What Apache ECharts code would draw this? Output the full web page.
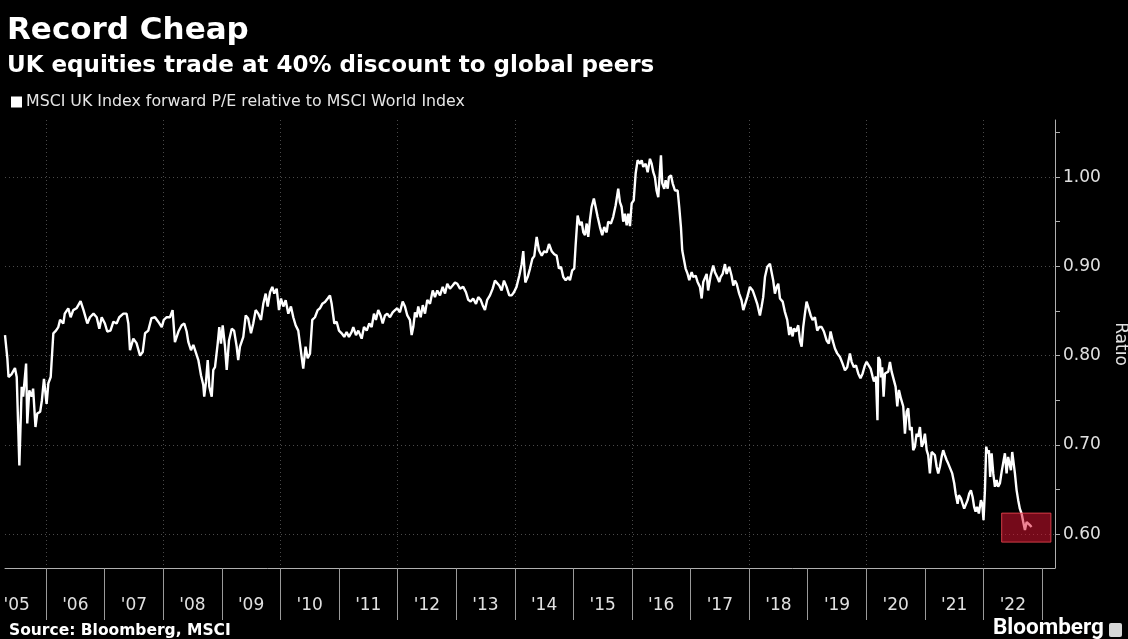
<!DOCTYPE html>
<html>
<head>
<meta charset="utf-8">
<title>Record Cheap</title>
<script src="https://cdn.jsdelivr.net/npm/echarts@6/dist/echarts.min.js"></script>
<style>
  html, body { margin: 0; padding: 0; background: #000; }
  #chart { width: 1128px; height: 639px; }
</style>
</head>
<body>
<div id="chart"></div>
<script>
// MSCI UK forward P/E relative to MSCI World, [decimal year, ratio]
const ratioHistory = [
  [2005.30,0.823],[2005.32,0.825],[2005.34,0.797],[2005.36,0.776],[2005.41,0.779],[2005.47,0.786],[2005.50,0.776],[2005.545,0.677],[2005.585,0.765],[2005.61,0.754],
  [2005.66,0.791],[2005.68,0.724],[2005.715,0.761],[2005.755,0.754],[2005.78,0.763],[2005.82,0.720],[2005.85,0.735],[2005.90,0.737],[2005.93,0.750],[2005.965,0.774],
  [2006.01,0.746],[2006.04,0.769],[2006.08,0.776],[2006.125,0.825],[2006.17,0.828],[2006.21,0.832],[2006.24,0.840],[2006.295,0.836],[2006.32,0.847],[2006.38,0.853],
  [2006.42,0.843],[2006.465,0.851],[2006.52,0.853],[2006.59,0.861],[2006.64,0.851],[2006.705,0.836],[2006.75,0.843],[2006.81,0.847],[2006.865,0.843],[2006.91,0.830],
  [2006.95,0.843],[2007.005,0.836],[2007.045,0.827],[2007.10,0.828],[2007.15,0.838],[2007.205,0.836],[2007.25,0.843],[2007.32,0.847],[2007.375,0.847],[2007.405,0.836],
  [2007.433,0.806],[2007.49,0.819],[2007.545,0.814],[2007.605,0.800],[2007.65,0.804],[2007.69,0.825],[2007.745,0.828],[2007.80,0.842],[2007.86,0.843],[2007.915,0.838],
  [2007.975,0.832],[2008.01,0.840],[2008.06,0.843],[2008.115,0.843],[2008.16,0.851],[2008.20,0.815],[2008.26,0.827],[2008.316,0.834],[2008.36,0.836],[2008.40,0.827],
  [2008.43,0.815],[2008.474,0.806],[2008.514,0.812],[2008.555,0.804],[2008.60,0.795],[2008.645,0.778],[2008.684,0.767],[2008.70,0.754],[2008.73,0.7705],[2008.76,0.795],
  [2008.787,0.765],[2008.828,0.754],[2008.855,0.784],[2008.884,0.787],[2008.93,0.8135],[2008.957,0.832],[2008.986,0.8135],[2009.015,0.834],[2009.055,0.810],[2009.084,0.784],
  [2009.123,0.817],[2009.17,0.830],[2009.21,0.828],[2009.254,0.810],[2009.28,0.795],[2009.31,0.810],[2009.367,0.821],[2009.408,0.845],[2009.45,0.8415],[2009.498,0.825],
  [2009.537,0.836],[2009.578,0.851],[2009.623,0.847],[2009.669,0.840],[2009.708,0.858],[2009.749,0.8695],[2009.783,0.855],[2009.823,0.871],[2009.862,0.877],[2009.896,0.8695],
  [2009.937,0.875],[2009.976,0.851],[2010.01,0.864],[2010.05,0.855],[2010.09,0.862],[2010.135,0.847],[2010.18,0.855],[2010.22,0.843],[2010.26,0.834],[2010.305,0.828],
  [2010.334,0.8135],[2010.363,0.7985],[2010.39,0.7855],[2010.43,0.810],[2010.466,0.797],[2010.505,0.802],[2010.544,0.840],[2010.59,0.843],[2010.636,0.851],[2010.676,0.853],
  [2010.715,0.858],[2010.761,0.860],[2010.807,0.864],[2010.846,0.8675],[2010.875,0.858],[2010.92,0.836],[2010.96,0.838],[2011.0,0.828],[2011.046,0.825],[2011.09,0.821],
  [2011.13,0.8265],[2011.17,0.821],[2011.217,0.8265],[2011.244,0.832],[2011.29,0.823],[2011.33,0.828],[2011.387,0.819],[2011.427,0.832],[2011.473,0.828],[2011.517,0.836],
  [2011.558,0.832],[2011.597,0.847],[2011.63,0.840],[2011.67,0.851],[2011.71,0.845],[2011.746,0.836],[2011.785,0.845],[2011.824,0.847],[2011.87,0.843],[2011.916,0.8485],
  [2011.956,0.851],[2011.995,0.853],[2012.04,0.8485],[2012.087,0.8605],[2012.126,0.855],[2012.166,0.845],[2012.21,0.840],[2012.24,0.823],[2012.268,0.832],[2012.297,0.8485],
  [2012.326,0.843],[2012.353,0.855],[2012.394,0.843],[2012.43,0.8565],[2012.468,0.847],[2012.507,0.8625],[2012.553,0.858],[2012.60,0.873],[2012.638,0.8655],[2012.678,0.873],
  [2012.724,0.8675],[2012.77,0.877],[2012.81,0.8695],[2012.848,0.8805],[2012.894,0.875],[2012.94,0.8785],[2012.98,0.882],[2013.019,0.8805],[2013.065,0.875],[2013.12,0.877],
  [2013.167,0.871],[2013.206,0.8625],[2013.247,0.8605],[2013.29,0.864],[2013.338,0.858],[2013.377,0.8655],[2013.418,0.8625],[2013.452,0.8565],[2013.491,0.851],[2013.53,0.8625],
  [2013.577,0.8675],[2013.623,0.875],[2013.662,0.884],[2013.69,0.886],[2013.735,0.8785],[2013.776,0.873],[2013.816,0.884],[2013.86,0.877],[2013.906,0.8675],[2013.947,0.8675],
  [2013.986,0.871],[2014.03,0.877],[2014.077,0.8895],[2014.118,0.9025],[2014.145,0.917],[2014.18,0.882],[2014.22,0.888],[2014.26,0.8975],[2014.30,0.9085],[2014.333,0.9115],
  [2014.374,0.933],[2014.413,0.918],[2014.46,0.912],[2014.503,0.917],[2014.544,0.9155],[2014.584,0.925],[2014.63,0.917],[2014.674,0.9135],[2014.715,0.912],[2014.754,0.8975],
  [2014.789,0.8995],[2014.828,0.888],[2014.869,0.8845],[2014.913,0.888],[2014.942,0.8845],[2014.98,0.8955],[2015.015,0.8975],[2015.04,0.925],[2015.073,0.957],[2015.113,0.946],
  [2015.142,0.950],[2015.17,0.938],[2015.198,0.935],[2015.227,0.948],[2015.254,0.933],[2015.283,0.952],[2015.312,0.9665],[2015.35,0.976],[2015.38,0.9665],[2015.414,0.9555],
  [2015.454,0.944],[2015.493,0.935],[2015.527,0.944],[2015.568,0.938],[2015.595,0.950],[2015.641,0.948],[2015.68,0.9555],[2015.722,0.9685],[2015.766,0.987],[2015.795,0.972],
  [2015.824,0.9665],[2015.851,0.950],[2015.88,0.959],[2015.91,0.946],[2015.937,0.959],[2015.966,0.945],[2015.995,0.9705],[2016.03,0.974],[2016.063,1.004],[2016.097,1.019],
  [2016.137,1.015],[2016.166,1.019],[2016.193,1.0115],[2016.234,1.015],[2016.268,1.0055],[2016.307,1.0205],[2016.336,1.015],[2016.364,1.0055],[2016.392,1.000],[2016.42,0.985],
  [2016.449,0.9775],[2016.473,1.002],[2016.495,1.0245],[2016.517,0.993],[2016.551,0.987],[2016.575,0.9965],[2016.61,0.987],[2016.63,1.000],[2016.666,1.002],[2016.695,0.993],
  [2016.734,0.985],[2016.78,0.985],[2016.807,0.9665],[2016.836,0.944],[2016.858,0.918],[2016.892,0.906],[2016.916,0.8975],[2016.95,0.8915],[2016.978,0.8845],[2017.019,0.8935],
  [2017.046,0.888],[2017.087,0.8895],[2017.12,0.8825],[2017.16,0.877],[2017.19,0.864],[2017.217,0.8825],[2017.246,0.8805],[2017.275,0.8915],[2017.30,0.873],[2017.343,0.8895],
  [2017.387,0.901],[2017.416,0.8935],[2017.455,0.888],[2017.49,0.8825],[2017.513,0.888],[2017.548,0.8915],[2017.587,0.9025],[2017.616,0.8915],[2017.66,0.8995],[2017.70,0.8895],
  [2017.73,0.8785],[2017.758,0.884],[2017.787,0.8805],[2017.83,0.8695],[2017.87,0.862],[2017.90,0.851],[2017.928,0.853],[2017.968,0.8655],[2018.013,0.877],[2018.06,0.873],
  [2018.10,0.8655],[2018.138,0.858],[2018.184,0.845],[2018.213,0.855],[2018.24,0.8655],[2018.27,0.888],[2018.31,0.8995],[2018.355,0.903],[2018.384,0.901],[2018.41,0.8845],
  [2018.44,0.8695],[2018.47,0.877],[2018.497,0.8805],[2018.526,0.864],[2018.572,0.8605],[2018.61,0.849],[2018.65,0.840],[2018.684,0.823],[2018.708,0.832],[2018.742,0.8215],
  [2018.764,0.8305],[2018.80,0.827],[2018.838,0.834],[2018.867,0.817],[2018.896,0.810],[2018.923,0.832],[2018.952,0.847],[2018.98,0.8605],[2019.015,0.853],[2019.05,0.845],
  [2019.083,0.840],[2019.123,0.843],[2019.162,0.828],[2019.196,0.832],[2019.237,0.832],[2019.276,0.827],[2019.322,0.817],[2019.36,0.8135],[2019.39,0.827],[2019.425,0.817],
  [2019.464,0.808],[2019.503,0.8025],[2019.55,0.7985],[2019.595,0.791],[2019.635,0.7835],[2019.674,0.787],[2019.72,0.8025],[2019.749,0.793],[2019.788,0.787],[2019.823,0.789],
  [2019.862,0.780],[2019.90,0.7745],[2019.937,0.780],[2019.976,0.789],[2020.005,0.793],[2020.039,0.791],[2020.073,0.7855],[2020.107,0.7765],[2020.13,0.771],[2020.164,0.7765],
  [2020.19,0.7275],[2020.205,0.7985],[2020.232,0.795],[2020.25,0.7755],[2020.27,0.787],[2020.295,0.754],[2020.318,0.780],[2020.346,0.778],[2020.374,0.782],[2020.403,0.793],
  [2020.432,0.782],[2020.46,0.784],[2020.50,0.765],[2020.528,0.743],[2020.556,0.7615],[2020.59,0.752],[2020.63,0.743],[2020.659,0.7125],[2020.688,0.737],[2020.715,0.741],
  [2020.744,0.7165],[2020.773,0.720],[2020.80,0.694],[2020.829,0.698],[2020.858,0.7125],[2020.885,0.709],[2020.915,0.720],[2020.944,0.698],[2020.97,0.7015],[2021.0,0.7125],
  [2021.03,0.694],[2021.056,0.6885],[2021.085,0.668],[2021.114,0.692],[2021.14,0.694],[2021.17,0.6885],[2021.20,0.6755],[2021.227,0.668],[2021.256,0.6755],[2021.285,0.6865],
  [2021.312,0.694],[2021.34,0.6885],[2021.37,0.683],[2021.398,0.679],[2021.427,0.677],[2021.466,0.668],[2021.50,0.657],[2021.524,0.6455],[2021.558,0.634],[2021.58,0.6435],
  [2021.614,0.640],[2021.643,0.634],[2021.67,0.6285],[2021.70,0.627],[2021.728,0.638],[2021.756,0.6455],[2021.785,0.649],[2021.814,0.6415],[2021.84,0.6305],[2021.865,0.625],
  [2021.89,0.6305],[2021.92,0.623],[2021.956,0.638],[2021.978,0.634],[2022.0,0.6155],[2022.024,0.649],[2022.046,0.698],[2022.07,0.6905],[2022.092,0.694],[2022.114,0.664],
  [2022.138,0.6905],[2022.166,0.668],[2022.195,0.653],[2022.224,0.6605],[2022.25,0.653],[2022.28,0.657],[2022.31,0.670],[2022.336,0.668],[2022.365,0.6905],[2022.394,0.668],
  [2022.42,0.6865],[2022.445,0.6885],[2022.468,0.6715],[2022.49,0.692],[2022.513,0.694],[2022.536,0.668],[2022.565,0.649],[2022.592,0.638],[2022.62,0.6285],[2022.65,0.623],
  [2022.678,0.6135],[2022.707,0.6045],[2022.736,0.6135],[2022.763,0.6155],[2022.792,0.610],[2022.82,0.608]
];

// Axis ticks and labels
const yearTicks = [2006, 2007, 2008, 2009, 2010, 2011, 2012, 2013, 2014, 2015, 2016, 2017, 2018, 2019, 2020, 2021, 2022, 2023];
const yearLabelAt = [2005.5, 2006.5, 2007.5, 2008.5, 2009.5, 2010.5, 2011.5, 2012.5, 2013.5, 2014.5, 2015.5, 2016.5, 2017.5, 2018.5, 2019.5, 2020.5, 2021.5, 2022.5];
const yearGridLines = [2006, 2008, 2010, 2012, 2014, 2016, 2018, 2020, 2022];
const ratioTicks = [0.60, 0.65, 0.70, 0.75, 0.80, 0.85, 0.90, 0.95, 1.00, 1.05];
const ratioLabels = [0.60, 0.70, 0.80, 0.90, 1.00];

// Highlighted record-low zone
const highlightYears = [2022.31, 2023.15];
const highlightRatio = [0.591, 0.6235];

const seriesName = 'MSCI UK Index forward P/E relative to MSCI World Index';
const xRange = [2005.30, 2023.22];
const yRange = [0.562, 1.064];

const chart = echarts.init(document.getElementById('chart'), null, { renderer: 'canvas' });

const baseFont = 'DejaVu Sans';

chart.setOption({
  backgroundColor: '#000',
  animation: false,
  title: [
    { text: 'Record Cheap', left: 7, top: 15, padding: 0,
      textStyle: { color: '#fff', fontFamily: baseFont, fontWeight: 'bold', fontSize: 31 } },
    { text: 'UK equities trade at 40% discount to global peers', left: 7, top: 55, padding: 0,
      textStyle: { color: '#fff', fontFamily: baseFont, fontWeight: 'bold', fontSize: 23 } },
    { text: 'Source: Bloomberg, MSCI', left: 9, top: 623, padding: 0,
      textStyle: { color: '#fff', fontFamily: baseFont, fontWeight: 'bold', fontSize: 15.5 } },
    { text: 'Bloomberg', left: 993, top: 617, padding: 0,
      textStyle: { color: '#fff', fontFamily: 'Roboto', fontWeight: 'bold', fontSize: 22.5 } }
  ],
  legend: {
    data: [seriesName],
    left: 11, top: 94, padding: 0,
    icon: 'rect', itemWidth: 11, itemHeight: 11, itemGap: 10,
    textStyle: { color: '#e6e6e6', fontFamily: baseFont, fontSize: 15.8, padding: [0, 0, 0, -1] }
  },
  graphic: [
    { type: 'rect', left: 1109, top: 623, shape: { width: 13, height: 14, r: 2 },
      style: { fill: '#d8d8d8' } }
  ],
  grid: { left: 5, right: 73, top: 120, bottom: 71, containLabel: false, outerBoundsMode: 'none' },
  xAxis: [
    {
      type: 'value', min: xRange[0], max: xRange[1],
      axisLine: { show: true, onZero: false, lineStyle: { color: '#b0b0b0', width: 1 } },
      axisTick: { show: true, customValues: yearTicks, length: 52, lineStyle: { color: '#9a9a9a', width: 1 } },
      axisLabel: {
        show: true, customValues: yearLabelAt, margin: 29,
        color: '#e0e0e0', fontFamily: baseFont, fontSize: 17,
        formatter: v => "'" + String(Math.round(v - 0.5)).slice(2)
      },
      splitLine: { show: false }
    },
    {
      type: 'value', min: xRange[0], max: xRange[1],
      axisLine: { show: false },
      axisTick: { show: false, customValues: yearGridLines },
      axisLabel: { show: false },
      splitLine: { show: true, lineStyle: { color: '#4a4a4a', type: [1, 3], width: 1 } }
    }
  ],
  yAxis: [
    {
      type: 'value', position: 'right', min: yRange[0], max: yRange[1],
      name: 'Ratio', nameLocation: 'middle', nameRotate: -90, nameGap: 55,
      nameTextStyle: { color: '#e0e0e0', fontFamily: baseFont, fontSize: 17 },
      axisLine: { show: true, onZero: false, lineStyle: { color: '#b0b0b0', width: 1 } },
      axisTick: { show: true, customValues: ratioTicks, length: 5, lineStyle: { color: '#b0b0b0' } },
      axisLabel: {
        show: true, customValues: ratioLabels, margin: 8,
        color: '#e0e0e0', fontFamily: baseFont, fontSize: 17,
        formatter: v => v.toFixed(2)
      },
      splitLine: { show: false }
    },
    {
      type: 'value', min: yRange[0], max: yRange[1],
      axisLine: { show: false },
      axisTick: { show: false, customValues: ratioLabels },
      axisLabel: { show: false },
      splitLine: { show: true, lineStyle: { color: '#4a4a4a', type: [1, 3], width: 1 } }
    }
  ],
  series: [
    {
      name: seriesName,
      type: 'line',
      xAxisIndex: 0, yAxisIndex: 0,
      data: ratioHistory,
      showSymbol: false,
      symbol: 'none',
      color: '#ffffff',
      lineStyle: { color: '#ffffff', width: 2.4 },
      z: 3,
      // translucent red box laid over the latest readings
      markArea: {
        silent: true,
        z: 10,
        itemStyle: { color: 'rgba(225, 20, 50, 0.52)', borderColor: 'rgba(235, 70, 80, 0.85)', borderWidth: 1 },
        data: [[
          { xAxis: highlightYears[0], yAxis: highlightRatio[1] },
          { xAxis: highlightYears[1], yAxis: highlightRatio[0] }
        ]]
      }
    }
  ]
});
</script>
</body>
</html>
